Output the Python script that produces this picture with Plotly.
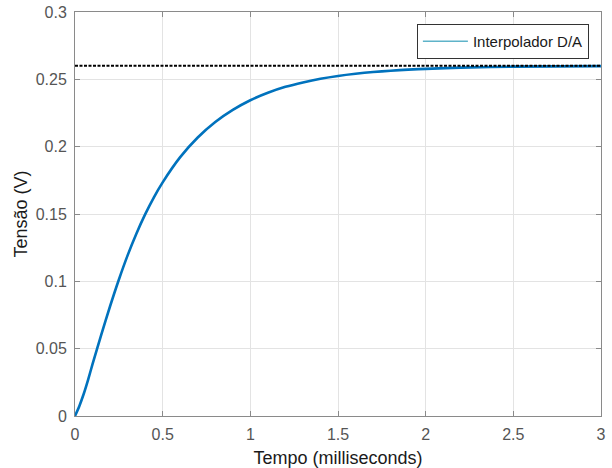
import plotly.graph_objects as go

# Data
tempo_ms = [0, 0.025, 0.05, 0.075, 0.1, 0.15, 0.2, 0.25, 0.3, 0.35, 0.4, 0.45, 0.5,
            0.6, 0.7, 0.8, 0.9, 1.0, 1.1, 1.2, 1.3, 1.4, 1.5, 1.6, 1.7, 1.8, 1.9,
            2.0, 2.2, 2.5, 3.0]
tensao_v = [0, 0.0075, 0.0165, 0.027, 0.0385, 0.0605, 0.0815, 0.1012, 0.1193, 0.1354, 0.1497, 0.1624, 0.1735,
            0.1922, 0.2068, 0.2183, 0.2273, 0.2345, 0.2400, 0.2444, 0.2477, 0.2504, 0.2525, 0.2541, 0.2554, 0.2564, 0.2572,
            0.2578, 0.2587, 0.2594, 0.2598]
ref_x = [0, 3]
ref_level = [0.26, 0.26]
legend_name = "Interpolador D/A"

x_ticks = [0, 0.5, 1, 1.5, 2, 2.5, 3]
x_labels = ["0", "0.5", "1", "1.5", "2", "2.5", "3"]
y_ticks = [0, 0.05, 0.1, 0.15, 0.2, 0.25, 0.3]
y_labels = ["0", "0.05", "0.1", "0.15", "0.2", "0.25", "0.3"]

fig = go.Figure()
fig.add_trace(go.Scatter(x=tempo_ms, y=tensao_v, mode="lines",
                         line=dict(color="#0072BD", width=2.6, shape="spline", smoothing=0.8),
                         showlegend=False))
fig.add_trace(go.Scatter(x=ref_x, y=ref_level, mode="lines",
                         line=dict(color="black", width=2, dash="3px,1.5px"),
                         showlegend=False))
fig.add_trace(go.Scatter(x=[None], y=[None], mode="lines", name=legend_name,
                         line=dict(color="#5fb3c9", width=1.5)))

axis_common = dict(showline=True, linecolor="#8a8a8a", linewidth=1, mirror="ticks",
                   ticks="inside", ticklen=5, tickcolor="#8a8a8a",
                   showgrid=True, gridcolor="#e3e3e3", gridwidth=1,
                   zeroline=False,
                   tickfont=dict(family="Liberation Sans, Arial, sans-serif", size=16, color="#555555"))

fig.update_xaxes(range=[0, 3], tickvals=x_ticks, ticktext=x_labels,
                 ticklabelstandoff=4,
                 title=dict(text="Tempo (milliseconds)", standoff=12,
                            font=dict(family="Liberation Sans, Arial, sans-serif", size=18, color="#1a1a1a")),
                 **axis_common)
fig.update_yaxes(range=[0, 0.3], tickvals=y_ticks, ticktext=y_labels,
                 ticklabelstandoff=4,
                 title=dict(text="Tensão (V)", standoff=3,
                            font=dict(family="Liberation Sans, Arial, sans-serif", size=18, color="#1a1a1a")),
                 **axis_common)

fig.update_layout(
    width=612, height=468,
    margin=dict(l=75, r=11, t=12, b=52, autoexpand=False),
    paper_bgcolor="white", plot_bgcolor="white",
    legend=dict(x=0.977, y=0.97, xanchor="right", yanchor="top",
                bgcolor="white", bordercolor="#333333", borderwidth=1,
                itemwidth=45,
                font=dict(family="Liberation Sans, Arial, sans-serif", size=15, color="#1a1a1a")),
)
fig.write_html("out.html")
